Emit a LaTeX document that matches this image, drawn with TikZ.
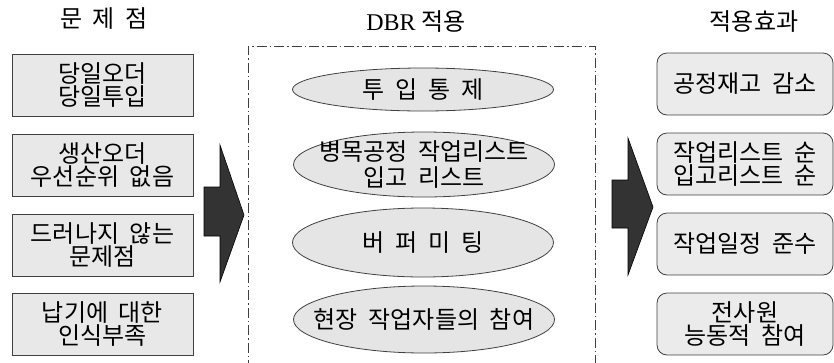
\documentclass[tikz,border=0pt]{standalone}
\usepackage{fontspec}
\setmainfont{Liberation Serif}
\newfontfamily\kr[WordSpace=2]{Noto Sans CJK KR}
\usetikzlibrary{shapes.geometric}
\tikzset{
  txt/.style={font=\kr\fontsize{24}{23}\selectfont, align=center, inner sep=0pt, text=black},
  probbox/.style={txt, draw=black!75, fill=black!9, line width=0.8pt, minimum width=181pt, minimum height=62pt},
  effbox/.style={txt, draw=black!75, fill=black!8, line width=0.8pt, rounded corners=10pt, minimum width=176pt, minimum height=62pt},
  dbrell/.style={ellipse, draw=black!75, fill=black!10, line width=0.8pt, minimum width=261pt, inner sep=0pt},
  blockarrow/.style={draw=black, fill=black!80, line width=0.6pt},
  frame/.style={draw=black!75, line width=0.8pt, dash pattern=on 10pt off 3pt on 1.5pt off 3pt},
  title/.style={font=\fontsize{24}{23}\selectfont, inner sep=0pt}
}
\begin{document}
\begin{tikzpicture}[x=1pt,y=-1pt]
\useasboundingbox (0,0) rectangle (834,362);
\begin{scope}
\clip (0,0) rectangle (834,362);
\draw[frame] (248,370) -- (248,46) -- (595,46) -- (595,370);
\end{scope}

% titles
\node[title] (t1) at (104,19) {\kr 문 제 점};
\node[title] (t2) at (416,22) {DBR {\kr 적용}};
\node[title] (t3) at (754,22) {\kr 적용효과};

% problem boxes
\node[probbox] (p1) at (102.5,85.5) {당일오더\\당일투입};
\node[probbox] (p2) at (102.5,165.5) {생산오더\\우선순위 없음};
\node[probbox] (p3) at (102.5,245) {드러나지 않는\\문제점};
\node[probbox] (p4) at (102.5,324) {납기에 대한\\인식부족};

% DBR ellipses
\node[dbrell, minimum height=43pt] (e1) at (423,89.5) {};
\node[dbrell, minimum height=65pt] (e2) at (424,164.5) {};
\node[dbrell, minimum height=69pt] (e3) at (423,242.5) {};
\node[dbrell, minimum height=67pt] (e4) at (424,319.5) {};
\node[txt] (d1) at (e1.center) {투 입 통 제};
\node[txt, font=\kr\fontsize{24}{26}\selectfont] (d2) at (e2.center) {병목공정 작업리스트\\입고 리스트};
\node[txt] (d3) at (e3.center) {버 퍼 미 팅};
\node[txt] (d4) at (e4.center) {현장 작업자들의 참여};

% effect boxes
\node[effbox] (r1) at (745,84) {공정재고 감소};
\node[effbox] (r2) at (745,164) {작업리스트 순\\입고리스트 순};
\node[effbox] (r3) at (745,244) {작업일정 준수};
\node[effbox] (r4) at (745,324) {전사원\\능동적 참여};

% block arrows
\draw[blockarrow] (204,187) -- (220,187) -- (220,145) -- (244,215) -- (220,282) -- (220,236) -- (204,236) -- cycle;
\draw[blockarrow] (612,180) -- (628,180) -- (628,138) -- (653,207) -- (628,275) -- (628,228) -- (612,228) -- cycle;
\end{tikzpicture}
\end{document}
